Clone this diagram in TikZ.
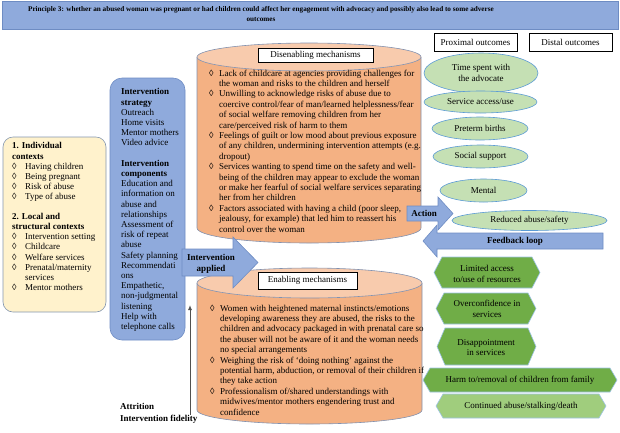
\documentclass[tikz,border=0pt]{standalone}
\usepackage{fontspec}
\setmainfont{Liberation Serif}
\usetikzlibrary{shapes.geometric,arrows.meta}
\definecolor{barblue}{RGB}{143,170,220}
\definecolor{edgeblue}{RGB}{110,140,195}
\definecolor{boxedge}{RGB}{132,151,176}
\definecolor{cream}{RGB}{255,242,204}
\definecolor{cylbody}{RGB}{244,177,131}
\definecolor{cyltop}{RGB}{248,203,173}
\definecolor{cylline}{RGB}{130,145,175}
\definecolor{ovalgreen}{RGB}{197,224,180}
\definecolor{ovaledge}{RGB}{91,155,213}
\definecolor{hexgreen}{RGB}{112,173,71}
\definecolor{hexlight}{RGB}{160,205,125}
\definecolor{hexedge}{RGB}{157,195,230}
\definecolor{arrowgray}{RGB}{80,80,80}
\newcommand{\dia}{\makebox[10pt][l]{◊}}
\newcommand{\ind}{\hspace*{10pt}}
\newcommand{\ldia}{\makebox[13pt][l]{◊}}
\newcommand{\lind}{\hspace*{13pt}}
\begin{document}
\begin{tikzpicture}[x=1pt,y=-1pt,
  txt/.style={font=\fontsize{9}{10.4}\selectfont,inner sep=0pt,align=left,anchor=north west},
  ctr/.style={font=\fontsize{9}{10.6}\selectfont,inner sep=0pt,align=center},
  bold/.style={font=\fontsize{9}{11}\selectfont\bfseries,inner sep=0pt,align=center},
  lbl/.style={font=\fontsize{9}{10.4}\selectfont,draw=black,fill=white,line width=0.5pt,inner sep=0pt},
  oval/.style={ellipse,draw=ovaledge,fill=ovalgreen,line width=0.6pt,inner sep=0pt,align=center,font=\fontsize{9}{10.6}\selectfont},
  hexa/.style={draw=hexedge,fill=hexgreen,line width=0.6pt},
  barrow/.style={draw=edgeblue,fill=barblue,line width=0.6pt},
  cyledge/.style={draw=cylline,line width=0.6pt},
  fidline/.style={draw=arrowgray,line width=1pt,-{Latex[length=5pt,width=4pt]}},
]
  \useasboundingbox (0,0) rectangle (620,432);

  % title bar
  \draw[draw=edgeblue,fill=barblue,line width=0.6pt] (2,1) rectangle (618,29);
  \node[font=\fontsize{7.2}{10}\selectfont\bfseries,align=center,inner sep=0pt] (title) at (261,14)
    {Principle 3: whether an abused woman was pregnant or had children could affect her engagement with advocacy and possibly also lead to some adverse\\outcomes};

  % outcome headers
  \node[lbl,minimum width=83pt,minimum height=18pt] (prox) at (475.5,42) {Proximal outcomes};
  \node[lbl,minimum width=83pt,minimum height=18pt] (dist) at (570.5,42) {Distal outcomes};

  % contexts
  \draw[draw=boxedge,fill=cream,line width=0.6pt,rounded corners=10pt] (3,137) rectangle (106,312);
  \node[txt,font=\fontsize{9}{10.1}\selectfont] (ctx) at (12,142.5) {%
    \textbf{1. Individual}\\
    \textbf{contexts}\\
    \ldia Having children\\
    \ldia Being pregnant\\
    \ldia Risk of abuse\\
    \ldia Type of abuse\\[10.1pt]
    \textbf{2. Local and}\\
    \textbf{structural contexts}\\
    \ldia Intervention setting\\
    \ldia Childcare\\
    \ldia Welfare services\\
    \ldia Prenatal/maternity\\
    \lind services\\
    \ldia Mentor mothers};

  % intervention column
  \draw[draw=edgeblue,fill=barblue,line width=0.6pt,rounded corners=12pt] (110,78) rectangle (185,340);
  \node[txt,font=\fontsize{9}{10.2}\selectfont] (strat) at (121,88.5) {%
    \textbf{Intervention}\\
    \textbf{strategy}\\
    Outreach\\
    Home visits\\
    Mentor mothers\\
    Video advice\\[10.2pt]
    \textbf{Intervention}\\
    \textbf{components}\\
    Education and\\
    information on\\
    abuse and\\
    relationships\\
    Assessment of\\
    risk of repeat\\
    abuse\\
    Safety planning\\
    Recommendati\\
    ons\\
    Empathetic,\\
    non-judgmental\\
    listening\\
    Help with\\
    telephone calls};

  % disenabling cylinder
  \fill[cylbody] (197,57) -- (197,228) arc[start angle=180,end angle=0,x radius=112,y radius=15]
    -- (421,57) arc[start angle=0,end angle=180,x radius=112,y radius=14] -- cycle;
  \draw[cyledge] (197,57) -- (197,228) arc[start angle=180,end angle=0,x radius=112,y radius=15] -- (421,57);
  \draw[cyledge,fill=cyltop] (309,57) ellipse [x radius=112,y radius=14];
  \node[lbl,minimum width=115pt,minimum height=14pt] (dis) at (315.5,55) {Disenabling mechanisms};
  \node[txt] (distxt) at (209,69.5) {%
    \dia Lack of childcare at agencies providing challenges for\\
    \ind the woman and risks to the children and herself\\
    \dia Unwilling to acknowledge risks of abuse due to\\
    \ind coercive control/fear of man/learned helplessness/fear\\
    \ind of social welfare removing children from her\\
    \ind care/perceived risk of harm to them\\
    \dia Feelings of guilt or low mood about previous exposure\\
    \ind of any children, undermining intervention attempts (e.g.\\
    \ind dropout)\\
    \dia Services wanting to spend time on the safety and well-\\
    \ind being of the children may appear to exclude the woman\\
    \ind or make her fearful of social welfare services separating\\
    \ind her from her children\\
    \dia Factors associated with having a child (poor sleep,\\
    \ind jealousy, for example) that led him to reassert his\\
    \ind control over the woman};

  % enabling cylinder
  \fill[cylbody] (197,283) -- (197,410) arc[start angle=180,end angle=0,x radius=112.5,y radius=14]
    -- (422,283) arc[start angle=0,end angle=180,x radius=112.5,y radius=15] -- cycle;
  \draw[cyledge] (197,283) -- (197,410) arc[start angle=180,end angle=0,x radius=112.5,y radius=14] -- (422,283);
  \draw[cyledge,fill=cyltop] (309.5,283) ellipse [x radius=112.5,y radius=15];
  \node[lbl,minimum width=99pt,minimum height=17pt] (en) at (307.5,280.5) {Enabling mechanisms};
  \node[txt] (entxt) at (210,304.5) {%
    \dia Women with heightened maternal instincts/emotions\\
    \ind developing awareness they are abused, the risks to the\\
    \ind children and advocacy packaged in with prenatal care so\\
    \ind the abuser will not be aware of it and the woman needs\\
    \ind no special arrangements\\
    \dia Weighing the risk of ‘doing nothing’ against the\\
    \ind potential harm, abduction, or removal of their children if\\
    \ind they take action\\
    \dia Professionalism of/shared understandings with\\
    \ind midwives/mentor mothers engendering trust and\\
    \ind confidence};

  % proximal outcomes
  \node[oval,minimum width=114pt,minimum height=40pt] (o1) at (481,73) {Time spent with\\the advocate};
  \node[oval,minimum width=113pt,minimum height=22pt] (o2) at (480.5,102) {Service access/use};
  \node[oval,minimum width=96pt,minimum height=23pt] (o3) at (480,128.5) {Preterm births};
  \node[oval,minimum width=95pt,minimum height=23pt] (o4) at (480.5,156.5) {Social support};
  \node[oval,minimum width=87pt,minimum height=23pt] (o5) at (483.5,190.5) {Mental};
  \node[oval,minimum width=155pt,minimum height=20pt] (o6) at (529.5,220.5) {Reduced abuse/safety};

  % distal outcomes
  \draw[hexa] (434,272.5) -- (442,257) -- (532,257) -- (540,272.5) -- (532,288) -- (442,288) -- cycle;
  \node[ctr] (h1) at (487,274) {Limited access\\to/use of resources};
  \draw[hexa] (436,308.5) -- (444,293) -- (528,293) -- (536,308.5) -- (528,324) -- (444,324) -- cycle;
  \node[ctr] (h2) at (487,309) {Overconfidence in\\services};
  \draw[hexa] (437,346.5) -- (445,328) -- (528,328) -- (536,346.5) -- (528,365) -- (445,365) -- cycle;
  \node[ctr] (h3) at (486,347.5) {Disappointment\\in services};
  \draw[hexa] (423,380) -- (430,368) -- (610,368) -- (617,380) -- (610,392) -- (430,392) -- cycle;
  \node[ctr] (h4) at (520,380) {Harm to/removal of children from family};
  \draw[hexa,fill=hexlight] (436,406) -- (443,394) -- (599,394) -- (606,406) -- (599,418) -- (443,418) -- cycle;
  \node[ctr] (h5) at (521,406) {Continued abuse/stalking/death};

  % block arrows
  \draw[barrow] (182,249) -- (233,249) -- (233,237) -- (258,262.5) -- (233,288) -- (233,276) -- (182,276) -- cycle;
  \node[bold] (applied) at (211,263.5) {Intervention\\applied};
  \draw[barrow] (407,206) -- (438,206) -- (438,197) -- (453,213.5) -- (438,230) -- (438,221) -- (407,221) -- cycle;
  \node[bold] (action) at (424,213.5) {Action};
  \draw[barrow] (603,233) -- (437,233) -- (437,225) -- (423,241) -- (437,257) -- (437,249) -- (603,249) -- cycle;
  \node[bold] (feedback) at (515,241) {Feedback loop};

  % attrition
  \node[txt,font=\fontsize{9}{11}\selectfont\bfseries] (attr) at (120,403.5) {Attrition};
  \node[txt,font=\fontsize{9}{11}\selectfont\bfseries] (fidel) at (120,414.5) {Intervention fidelity};
  \coordinate (fidtip) at (190,305);
  \draw[fidline] (fidel.north -| fidtip) -- (fidtip);
\end{tikzpicture}
\end{document}
